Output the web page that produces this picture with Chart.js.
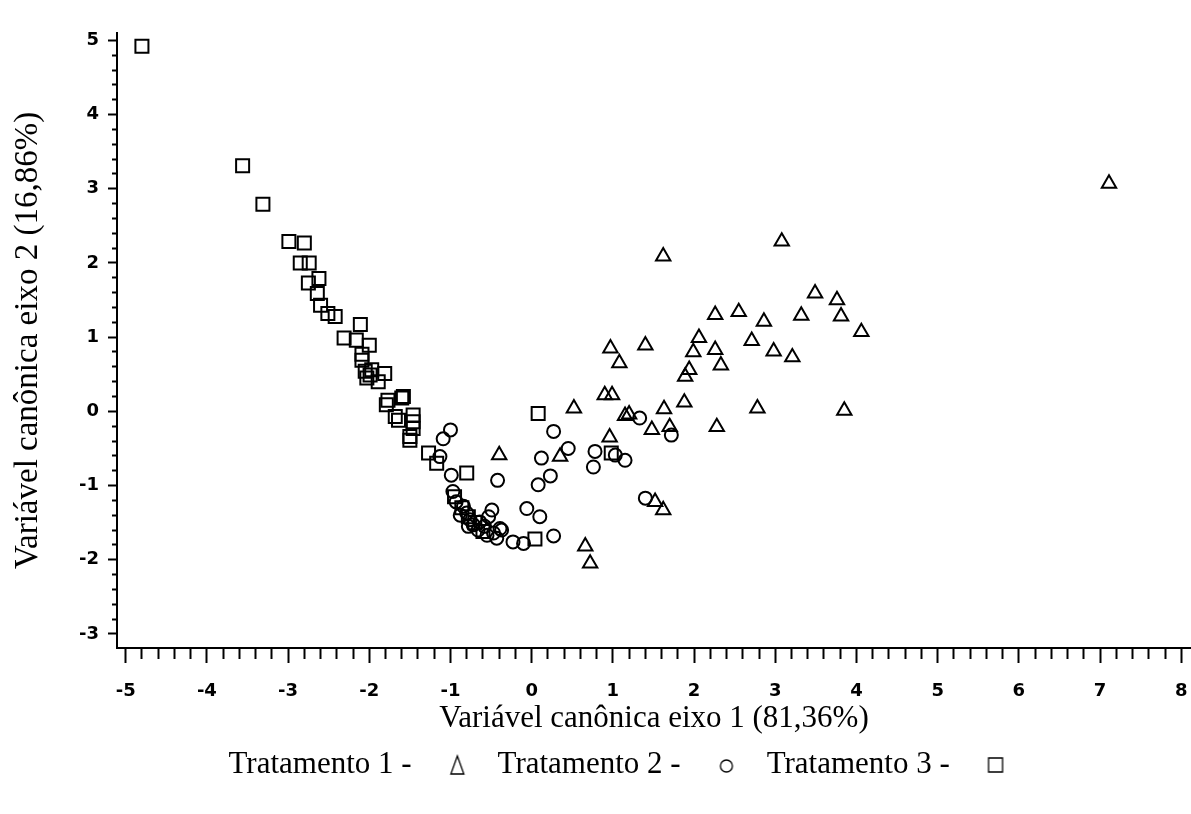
<!DOCTYPE html>
<html lang="pt-BR">
<head>
<meta charset="utf-8">
<title>Variáveis canônicas</title>
<script src="https://cdn.jsdelivr.net/npm/chart.js@4.4.1/dist/chart.umd.min.js"></script>
<style>
  html, body { margin: 0; padding: 0; background: #fff; }
  canvas { display: block; }
</style>
</head>
<body>
<canvas id="grafico" width="1191" height="814"></canvas>
<script>
// Tratamento 1 (triângulos)
const trat1X = [7.11, 1.62, 3.08, 3.49, 3.76, 3.81, 4.06, 2.26, 2.55, 2.86, 3.32, 0.97, 1.40, 2.06,
                1.99, 2.26, 2.71, 2.98, 3.21, 1.08, 2.33, 1.94, 1.89, 0.90, 0.99, 0.52, 1.63, 1.88,
                2.78, 3.85, 1.15, 1.20, 1.48, 1.70, 2.28, 0.96, 0.35, -0.40, 1.52, 1.62, 0.66, 0.72];
const trat1Y = [3.07, 2.09, 2.29, 1.59, 1.50, 1.28, 1.07, 1.30, 1.34, 1.21, 1.29, 0.85, 0.89, 0.99,
                0.80, 0.83, 0.95, 0.81, 0.73, 0.65, 0.62, 0.56, 0.47, 0.22, 0.22, 0.04, 0.03, 0.12,
                0.04, 0.01, -0.06, -0.04, -0.25, -0.21, -0.21, -0.35, -0.61, -0.59, -1.22, -1.33, -1.82, -2.05];

// Tratamento 2 (círculos)
const trat2X = [-1.00, -1.09, -1.13, -0.99, -0.97, -0.93, -0.84, -0.80, -0.76, -0.72, -0.66, -0.55,
                -0.47, -0.39, -0.49, -0.53, -0.37, -0.64, -0.78, -0.58, -0.43, -0.42, -0.23, -0.10,
                -0.06, 0.10, 0.27, 0.08, 0.23, 0.12, 0.27, 0.45, 0.78, 0.76, 1.03, 1.15, 1.33, 1.72,
                1.40, -0.88];
const trat2Y = [-0.25, -0.37, -0.61, -0.86, -1.08, -1.22, -1.28, -1.37, -1.46, -1.53, -1.60, -1.67,
                -1.64, -1.58, -1.33, -1.42, -1.60, -1.49, -1.55, -1.55, -1.71, -0.93, -1.76, -1.78,
                -1.31, -1.42, -1.68, -0.99, -0.87, -0.63, -0.27, -0.50, -0.54, -0.75, -0.59, -0.66,
                -0.09, -0.32, -1.17, -1.40];

// Tratamento 3 (quadrados)
const trat3X = [-4.80, -3.56, -3.31, -2.99, -2.80, -2.85, -2.74, -2.62, -2.75, -2.64, -2.60, -2.51,
                -2.42, -2.11, -2.31, -2.16, -2.00, -2.09, -2.09, -2.05, -1.99, -1.97, -1.81, -2.03,
                -1.89, -1.77, -1.60, -1.58, -1.79, -1.68, -1.64, -1.46, -1.46, -1.46, -1.50, -1.50,
                -1.27, -1.17, -0.80, 0.08, 0.04, -0.95, -0.86, -0.78, -0.70, -0.60, 0.98];
const trat3Y = [4.92, 3.31, 2.79, 2.29, 2.27, 2.00, 2.00, 1.79, 1.73, 1.59, 1.43, 1.32,
                1.28, 1.17, 0.99, 0.96, 0.89, 0.77, 0.69, 0.54, 0.49, 0.56, 0.51, 0.45,
                0.40, 0.15, 0.18, 0.20, 0.09, -0.07, -0.12, -0.05, -0.14, -0.23, -0.34, -0.39,
                -0.56, -0.70, -0.83, -0.03, -1.72, -1.15, -1.30, -1.42, -1.50, -1.62, -0.56];

const tituloX = 'Variável canônica eixo 1 (81,36%)';
const tituloY = 'Variável canônica eixo 2 (16,86%)';

const toPoints = (xs, ys) => xs.map((x, i) => ({ x: x, y: ys[i] }));
const isInt = v => Math.abs(v - Math.round(v)) < 1e-6;

const serif = "'Liberation Serif', 'Times New Roman', serif";
const tickFont = { family: "'DejaVu Sans', sans-serif", size: 18, weight: 'bold' };

// simbolos finos da legenda (desenhados à parte, com tamanhos próprios)
function simbolo(tipo) {
    const c = document.createElement('canvas');
    c.width = 20;
    c.height = 22;
    const g = c.getContext('2d');
    g.strokeStyle = '#000';
    g.lineWidth = 1.3;
    g.beginPath();
    if (tipo === 'triangle') {
        g.moveTo(10, 2); g.lineTo(16.5, 20); g.lineTo(3.5, 20); g.closePath();
    } else if (tipo === 'circle') {
        g.arc(10, 12, 6, 0, Math.PI * 2);
    } else {
        g.rect(3, 4, 14, 14);
    }
    g.stroke();
    return c;
}

function serie(label, xs, ys, style, radius) {
    return {
        label: label,
        data: toPoints(xs, ys),
        pointStyle: style,
        pointRadius: radius,
        pointHoverRadius: radius,
        borderColor: '#000',
        backgroundColor: 'rgba(0,0,0,0)',
        borderWidth: 2,
        pointBorderWidth: 2
    };
}

const ctx = document.getElementById('grafico').getContext('2d');
new Chart(ctx, {
    type: 'scatter',
    data: {
        datasets: [
            serie('Tratamento 1 -', trat1X, trat1Y, 'triangle', 8.3),
            serie('Tratamento 2 -', trat2X, trat2Y, 'circle', 6.5),
            serie('Tratamento 3 -', trat3X, trat3Y, 'rect', 9.2)
        ]
    },
    options: {
        responsive: false,
        animation: false,
        events: [],
        // sem folga automática: o eixo x vai até a borda direita
        layout: { autoPadding: false, padding: { top: 33, right: 0, bottom: 23.5, left: 40 } },
        scales: {
            x: {
                type: 'linear',
                min: -5.107,
                max: 8.12,
                afterFit: s => { s.height = 91.5; s.paddingRight = 0; },
                border: { display: true, color: '#000', width: 2 },
                grid: {
                    drawOnChartArea: false,
                    tickLength: 15,
                    tickWidth: 2,
                    tickColor: '#000',
                    // ticks menores mais curtos
                    tickBorderDash: c => (c.tick && !isInt(c.tick.value)) ? [10, 100] : []
                },
                ticks: {
                    stepSize: 0.2,
                    includeBounds: false,
                    autoSkip: false,
                    maxRotation: 0,
                    padding: 0,
                    color: '#000',
                    font: Object.assign({ lineHeight: 3.2 }, tickFont),
                    callback: v => isInt(v) ? String(Math.round(v)) : ''
                },
                title: {
                    display: true,
                    text: tituloX,
                    color: '#000',
                    font: { family: serif, size: 31 },
                    padding: { top: 0, bottom: 2 }
                }
            },
            y: {
                type: 'linear',
                min: -3.19,
                max: 5.1,
                afterFit: s => { s.width = 77; },
                border: { display: true, color: '#000', width: 2 },
                grid: {
                    drawOnChartArea: false,
                    tickLength: 9,
                    tickWidth: 2,
                    tickColor: '#000',
                    tickBorderDash: c => (c.tick && !isInt(c.tick.value)) ? [0, 4, 5, 100] : []
                },
                ticks: {
                    stepSize: 0.2,
                    includeBounds: false,
                    autoSkip: false,
                    padding: 9,
                    color: '#000',
                    font: tickFont,
                    callback: v => isInt(v) ? String(Math.round(v)) : ''
                },
                title: {
                    display: true,
                    text: tituloY,
                    color: '#000',
                    font: { family: serif, size: 33 },
                    padding: { top: -31.8, bottom: 0 }
                }
            }
        },
        plugins: {
            tooltip: { enabled: false },
            legend: {
                display: true,
                position: 'bottom',
                rtl: true,
                reverse: true,
                labels: {
                    usePointStyle: true,
                    boxWidth: 14,
                    boxHeight: 13,
                    padding: 10,
                    color: '#000',
                    font: { family: serif, size: 31 },
                    generateLabels: chart => chart.data.datasets.map((ds, i) => ({
                        text: (i > 0 ? '   ' : '') + ds.label + '   ',
                        pointStyle: simbolo(ds.pointStyle),
                        strokeStyle: '#000',
                        fillStyle: 'rgba(0,0,0,0)',
                        lineWidth: 1.2,
                        fontColor: '#000',
                        hidden: false,
                        datasetIndex: i
                    }))
                }
            }
        }
    }
});
</script>
</body>
</html>
